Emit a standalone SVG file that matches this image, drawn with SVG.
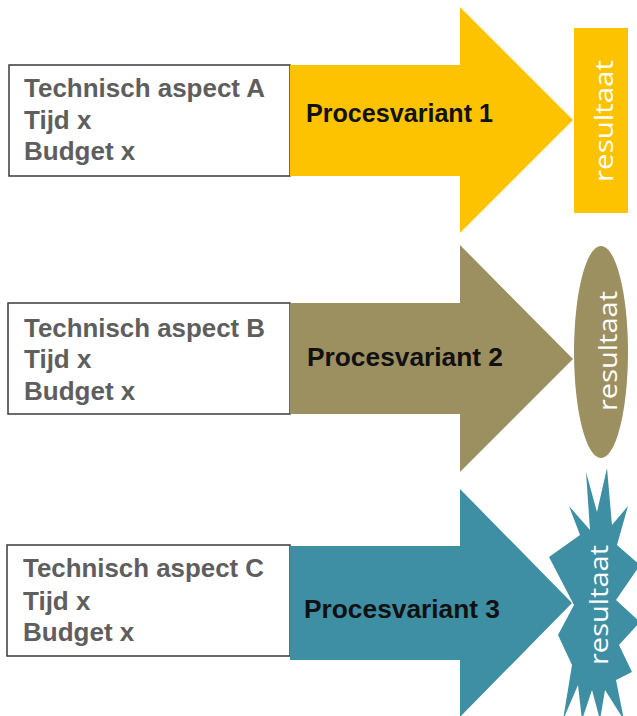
<svg xmlns="http://www.w3.org/2000/svg" width="637" height="716" viewBox="0 0 637 716">
  <style>
    .box { fill: #ffffff; stroke: #3a3a3a; stroke-width: 1.5; }
    .info { font-family: "Liberation Sans", Arial, sans-serif; font-weight: bold; font-size: 26px; fill: #5e5e5e; }
    .label { font-family: "Liberation Sans", Arial, sans-serif; font-weight: bold; font-size: 25.5px; fill: #111111; }
    .res { font-family: "Open Sans", "Noto Sans", sans-serif; font-size: 25px; fill: #ffffff; text-anchor: middle; }
    .gold { fill: #fdc300; }
    .olive { fill: #9c9060; }
    .teal { fill: #3e8fa4; }
  </style>
  <rect width="637" height="716" fill="#ffffff"/>

  <!-- variant 1 -->
  <g id="aspect-a">
    <rect class="box" x="9" y="65" width="281" height="111"/>
    <text class="info" x="24" y="97" textLength="241" lengthAdjust="spacingAndGlyphs">Technisch aspect A</text>
    <text class="info" x="24" y="129">Tijd x</text>
    <text class="info" x="24" y="160">Budget x</text>
  </g>
  <g id="procesvariant-1">
    <polygon class="gold" points="290,65 460,65 460,7 573,120 460,233 460,176 290,176"/>
    <text class="label" x="306" y="122" textLength="187" lengthAdjust="spacingAndGlyphs">Procesvariant 1</text>
  </g>
  <g id="resultaat-1">
    <rect class="gold" x="574" y="28" width="54" height="185"/>
    <text class="res" transform="translate(613,121) rotate(-90)" textLength="122" lengthAdjust="spacingAndGlyphs">resultaat</text>
  </g>

  <!-- variant 2 -->
  <g id="aspect-b">
    <rect class="box" x="8" y="303" width="282" height="111"/>
    <text class="info" x="24" y="337" textLength="241" lengthAdjust="spacingAndGlyphs">Technisch aspect B</text>
    <text class="info" x="24" y="368">Tijd x</text>
    <text class="info" x="24" y="400">Budget x</text>
  </g>
  <g id="procesvariant-2">
    <polygon class="olive" points="290,303 460,303 460,245 573,359 460,472 460,414 290,414"/>
    <text class="label" x="307" y="366" textLength="196" lengthAdjust="spacingAndGlyphs">Procesvariant 2</text>
  </g>
  <g id="resultaat-2">
    <ellipse class="olive" cx="601" cy="352" rx="27" ry="106"/>
    <text class="res" transform="translate(617,351) rotate(-90)" textLength="120" lengthAdjust="spacingAndGlyphs">resultaat</text>
  </g>

  <!-- variant 3 -->
  <g id="aspect-c">
    <rect class="box" x="7" y="545" width="283" height="111"/>
    <text class="info" x="23" y="577" textLength="241" lengthAdjust="spacingAndGlyphs">Technisch aspect C</text>
    <text class="info" x="23" y="610">Tijd x</text>
    <text class="info" x="23" y="641">Budget x</text>
  </g>
  <g id="procesvariant-3">
    <polygon class="teal" points="290,546 460,546 460,489 572,603 460,717 460,660 290,660"/>
    <text class="label" x="304" y="618" textLength="196" lengthAdjust="spacingAndGlyphs">Procesvariant 3</text>
  </g>
  <g id="resultaat-3">
    <polygon class="teal" points="586,472 597,512 607,468 612,525 628,506 617,545 640,565 616,600 640,622 619,645 632,672 616,680 624,720 605,690 600,720 592,690 582,720 578,685 563,720 572,665 558,635 574,605 549,557 580,535 569,506 590,530"/>
    <text class="res" transform="translate(608,605) rotate(-90)" textLength="120" lengthAdjust="spacingAndGlyphs">resultaat</text>
  </g>

  <!-- connectors: none, the arrows themselves link the blocks -->
  <g id="connectors"/>
</svg>
